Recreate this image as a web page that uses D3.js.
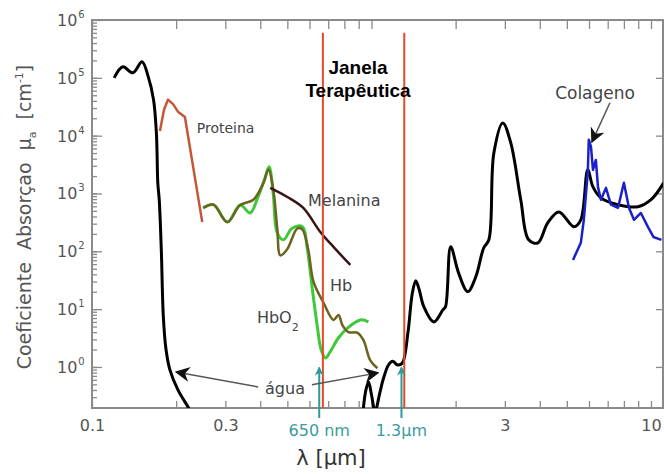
<!DOCTYPE html>
<html>
<head>
<meta charset="utf-8">
<script src="https://cdn.jsdelivr.net/npm/d3@7"></script>
<style>
  body { margin: 0; background: #fff; }
  svg { display: block; font-family: 'DejaVu Sans', sans-serif; }
</style>
</head>
<body>
<script>

// wavelength (um) vs absorption coefficient (cm^-1)
var waterUV = [[0.120, 1.0e5], [0.129, 1.55e5], [0.140, 1.22e5], [0.151, 1.9e5], [0.159, 1.04e5], [0.166, 4.2e4],
               [0.170, 1.1e4], [0.172, 1.5e3], [0.174, 780], [0.177, 106], [0.180, 7.3], [0.184, 2.0],
               [0.190, 0.89], [0.203, 0.40], [0.221, 0.20], [0.232, 0.13]];
var waterIR = [[0.93, 0.15], [0.955, 0.4], [0.976, 0.55], [1.0, 0.33], [1.03, 0.17], [1.07, 0.35], [1.10, 0.6],
               [1.15, 1.08], [1.19, 1.25], [1.24, 1.08], [1.29, 1.17], [1.35, 3.9], [1.40, 19], [1.44, 31],
               [1.48, 22], [1.54, 10.9], [1.67, 6.0], [1.80, 9.7], [1.84, 11], [1.92, 120], [2.05, 42],
               [2.21, 20], [2.36, 36], [2.52, 114], [2.63, 158], [2.74, 5000], [2.95, 1.66e4], [3.15, 7500],
               [3.42, 780], [3.65, 158], [3.94, 140], [4.27, 310], [4.68, 480], [5.30, 265], [5.61, 350],
               [5.94, 2560], [6.2, 1300], [6.62, 840], [7.62, 640], [8.98, 590], [10, 780], [11.1, 1530]];
var protein = [[0.175, 1.2e4], [0.181, 2.8e4], [0.187, 4.2e4], [0.195, 3.5e4], [0.203, 2.6e4], [0.215, 2.1e4],
               [0.248, 320]];
var melanin = [[0.434, 1250], [0.50, 870], [0.57, 563], [0.656, 216], [0.731, 119], [0.84, 58]];
var hb = [[0.25, 560], [0.272, 640], [0.305, 320], [0.339, 630], [0.378, 780], [0.41, 1500], [0.428, 2600],
          [0.445, 1200], [0.46, 250], [0.472, 85], [0.50, 110], [0.543, 250], [0.565, 240], [0.594, 106],
          [0.62, 30], [0.673, 13], [0.731, 6.5], [0.762, 7.9], [0.787, 5.3], [0.827, 4.0], [0.891, 3.9],
          [0.936, 2.9], [0.99, 1.3], [1.05, 0.95]];
var hbo2 = [[0.25, 560], [0.272, 640], [0.305, 320], [0.339, 630], [0.368, 460], [0.39, 800], [0.415, 1800],
            [0.43, 2900], [0.445, 1000], [0.46, 208], [0.484, 158], [0.52, 250], [0.566, 265], [0.59, 106],
            [0.615, 21], [0.64, 5], [0.66, 2], [0.684, 1.43], [0.71, 1.8], [0.762, 3.2], [0.82, 4.7],
            [0.913, 6.5], [0.975, 6.0]];
var collagen = [[5.26, 71], [5.61, 140], [5.75, 350], [5.94, 2270], [5.99, 8500], [6.1, 6400], [6.2, 2560],
                [6.35, 3800], [6.46, 1300], [6.62, 777], [6.9, 1250], [7.19, 640], [7.62, 565], [8.0, 1530],
                [8.34, 565], [8.69, 350], [9.2, 460], [9.75, 265], [10.2, 177], [10.9, 158]];

var xTickLabels = [0.1, 0.3, 3, 10];
var yDecades = [0, 1, 2, 3, 4, 5, 6];
var windowEdges = [0.67, 1.31];            // red lines of the therapeutic window
var windowMarks = [0.65, 1.28];            // teal arrows under the axis
var windowMarkLabels = ['650 nm', '1.3\u00b5m'];

var svg = d3.select('body').append('svg').attr('width', 664).attr('height', 474);

var x = d3.scaleLog().domain([0.1, 11.04]).range([92, 663]);
var y = d3.scaleLog().domain([0.195, 1e6]).range([408, 20]);

var defs = svg.append('defs');
defs.append('clipPath').attr('id', 'plot').append('rect')
    .attr('x', 92).attr('y', 20).attr('width', 571).attr('height', 388);

var addHead = function(id, color, size) {
  defs.append('marker')
      .attr('id', id)
      .attr('viewBox', '0 0 10 10')
      .attr('refX', 9).attr('refY', 5)
      .attr('markerWidth', size).attr('markerHeight', size)
      .attr('markerUnits', 'userSpaceOnUse')
      .attr('orient', 'auto')
      .append('path')
      .attr('d', 'M0,0 L10,5 L0,10 L3,5 Z')
      .attr('fill', color);
};
addHead('headBlack', '#111', 15);
addHead('headTeal', '#2f9a9a', 9);

// ---- frame and ticks ----
var decade = function(lo, hi) {
  var out = [];
  for (var e = lo; e <= hi; e++) {
    for (var k = 1; k < 10; k++) out.push(k * Math.pow(10, e));
  }
  return out;
};
var xMinor = decade(-1, 0).concat([10]);
var yMinor = decade(-1, 5).filter(function(v) { return v >= 0.195 && v <= 1e6; });

var tickStyle = function(g) {
  g.select('.domain').remove();
  g.selectAll('line').attr('stroke', '#8a8a8a').attr('stroke-width', 1.3);
};

svg.append('g').attr('transform', 'translate(0,408)')
   .call(d3.axisBottom(x).tickValues(xMinor).tickSize(-7).tickFormat(''))
   .call(tickStyle);
svg.append('g').attr('transform', 'translate(0,20)')
   .call(d3.axisTop(x).tickValues(xMinor).tickSize(-9).tickFormat(''))
   .call(tickStyle);
svg.append('g').attr('transform', 'translate(92,0)')
   .call(d3.axisLeft(y).tickValues(yMinor).tickSize(-5).tickFormat(''))
   .call(tickStyle);
svg.append('g').attr('transform', 'translate(92,0)')
   .call(d3.axisLeft(y).tickValues(yDecades.map(function(e) { return Math.pow(10, e); })).tickSize(-10).tickFormat(''))
   .call(tickStyle);
svg.append('g').attr('transform', 'translate(663,0)')
   .call(d3.axisRight(y).tickValues(yDecades.map(function(e) { return Math.pow(10, e); })).tickSize(-7).tickFormat(''))
   .call(tickStyle);

svg.append('rect')
   .attr('x', 92).attr('y', 20).attr('width', 571).attr('height', 388)
   .attr('fill', 'none').attr('stroke', '#8a8a8a').attr('stroke-width', 2);

// x tick labels
svg.append('g').attr('transform', 'translate(0,408)')
   .call(d3.axisBottom(x).tickValues(xTickLabels).tickSize(0).tickPadding(12).tickFormat(function(d) { return d; }))
   .call(function(g) {
     g.select('.domain').remove();
     g.selectAll('text').attr('font-size', 16).attr('fill', '#555').attr('font-family', 'DejaVu Sans');
   });

// y tick labels 10^n
var yLab = svg.append('g').selectAll('text')
   .data(yDecades).enter().append('text')
   .attr('x', 57)
   .attr('y', function(e) { return y(Math.pow(10, e)) + 6; })
   .attr('font-size', 16).attr('fill', '#555');
yLab.append('tspan').text('10');
yLab.append('tspan').attr('dy', -8).attr('dx', 1).attr('font-size', 10).text(function(e) { return e; });

// axis titles
var yTitle = svg.append('text')
   .attr('transform', 'translate(31,217) rotate(-90)')
   .attr('text-anchor', 'middle')
   .attr('font-size', 19).attr('fill', '#555')
   .attr('word-spacing', 6);
yTitle.append('tspan').text('Coeficiente Absorçao \u03bc');
yTitle.append('tspan').attr('dy', 5).attr('font-size', 11).text('a');
yTitle.append('tspan').attr('dy', -5).text(' [cm');
yTitle.append('tspan').attr('dy', -8).attr('font-size', 11).text('-1');
yTitle.append('tspan').attr('dy', 8).text(']');

svg.append('text')
   .attr('x', 331).attr('y', 465)
   .attr('text-anchor', 'middle')
   .attr('font-size', 21).attr('fill', '#333')
   .text('\u03bb [\u00b5m]');

// ---- curves ----
var plot = svg.append('g').attr('clip-path', 'url(#plot)');

var smooth = d3.line()
   .x(function(d) { return x(d[0]); })
   .y(function(d) { return y(d[1]); })
   .curve(d3.curveCatmullRom.alpha(0.5));
var straight = d3.line()
   .x(function(d) { return x(d[0]); })
   .y(function(d) { return y(d[1]); });

var curves = [
  { data: waterUV, color: '#000', w: 3, gen: smooth },
  { data: waterIR, color: '#000', w: 3, gen: smooth },
  { data: protein, color: '#c4573a', w: 2.5, gen: straight },
  { data: hbo2, color: '#3ec83a', w: 3, gen: smooth },
  { data: hb, color: '#6b6420', w: 2.5, gen: smooth },
  { data: melanin, color: '#3a1414', w: 2.5, gen: smooth },
  { data: collagen, color: '#1c20c8', w: 2.5, gen: straight }
];

plot.selectAll('path.curve')
    .data(curves).enter().append('path')
    .attr('class', 'curve')
    .attr('d', function(c) { return c.gen(c.data); })
    .attr('fill', 'none')
    .attr('stroke', function(c) { return c.color; })
    .attr('stroke-width', function(c) { return c.w; })
    .attr('stroke-linejoin', 'round');

// therapeutic window
svg.selectAll('line.edge')
   .data(windowEdges).enter().append('line')
   .attr('class', 'edge')
   .attr('x1', function(d) { return x(d); }).attr('x2', function(d) { return x(d); })
   .attr('y1', y(6e5)).attr('y2', y(0.195))
   .attr('stroke', '#e24a2a').attr('stroke-width', 2);

svg.selectAll('line.mark')
   .data(windowMarks).enter().append('line')
   .attr('class', 'mark')
   .attr('x1', function(d) { return x(d); }).attr('x2', function(d) { return x(d); })
   .attr('y1', y(0.195) + 10).attr('y2', y(0.98))
   .attr('stroke', '#2f9a9a').attr('stroke-width', 2)
   .attr('marker-end', 'url(#headTeal)');

svg.selectAll('text.mark')
   .data(windowMarks).enter().append('text')
   .attr('class', 'mark')
   .attr('x', function(d) { return x(d); }).attr('y', 436)
   .attr('text-anchor', 'middle')
   .attr('font-size', 16).attr('fill', '#3a9c9c')
   .text(function(d, i) { return windowMarkLabels[i]; });

svg.append('text')
   .attr('x', x(0.895)).attr('y', y(1.17e5))
   .attr('text-anchor', 'middle')
   .attr('font-family', 'Liberation Sans, Arial, sans-serif')
   .attr('font-weight', 'bold').attr('font-size', 19)
   .text('Janela');
svg.append('text')
   .attr('x', x(0.895)).attr('y', y(4.7e4))
   .attr('text-anchor', 'middle')
   .attr('font-family', 'Liberation Sans, Arial, sans-serif')
   .attr('font-weight', 'bold').attr('font-size', 19)
   .text('Terapêutica');

// ---- labels and arrows ----
var labels = [
  { t: 'Proteina', at: [0.237, 1.1e4], size: 14 },
  { t: 'Melanina', at: [0.593, 610], size: 16 },
  { t: 'Hb', at: [0.71, 20.6], size: 16 },
  { t: 'HbO', sub: '2', at: [0.389, 5.8], size: 16 },
  { t: '\u00e1gua', at: [0.416, 0.34], size: 16 },
  { t: 'Colageno', at: [4.54, 4.3e4], size: 17 }
];
var lab = svg.selectAll('text.lab')
   .data(labels).enter().append('text')
   .attr('class', 'lab')
   .attr('x', function(d) { return x(d.at[0]); })
   .attr('y', function(d) { return y(d.at[1]); })
   .attr('font-size', function(d) { return d.size; })
   .attr('fill', '#444');
lab.append('tspan').text(function(d) { return d.t; });
lab.filter(function(d) { return d.sub; }).append('tspan')
   .attr('dy', 8).attr('font-size', 11).text(function(d) { return d.sub; });

var arrows = [
  { from: [0.393, 0.45], to: [0.2, 0.82] },
  { from: [0.612, 0.49], to: [1.055, 0.79] },
  { from: [7.13, 3.7e4], to: [6.15, 7800] }
];
svg.selectAll('line.arrow')
   .data(arrows).enter().append('line')
   .attr('class', 'arrow')
   .attr('x1', function(d) { return x(d.from[0]); }).attr('y1', function(d) { return y(d.from[1]); })
   .attr('x2', function(d) { return x(d.to[0]); }).attr('y2', function(d) { return y(d.to[1]); })
   .attr('stroke', '#555').attr('stroke-width', 1.5)
   .attr('marker-end', 'url(#headBlack)');

</script>
</body>
</html>
